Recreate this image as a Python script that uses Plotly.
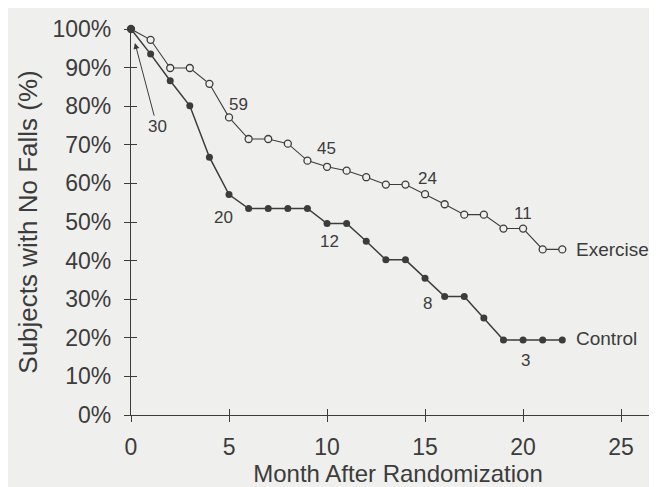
import plotly.graph_objects as go

months = list(range(0, 23))
exercise = [100, 97.2, 89.9, 89.9, 85.8, 77.1, 71.5, 71.5, 70.3, 65.9, 64.3, 63.3,
            61.6, 59.7, 59.7, 57.2, 54.6, 51.9, 51.9, 48.3, 48.3, 42.9, 42.9]
control = [100, 93.5, 86.6, 80.1, 66.8, 57.1, 53.5, 53.5, 53.5, 53.5, 49.6, 49.6,
           45.0, 40.2, 40.2, 35.4, 30.7, 30.7, 25.1, 19.4, 19.4, 19.4, 19.4]

# numbers at risk labels: (text, month, percent)
risk_labels = [("70", 0.7, 102.9), ("59", 5.5, 80.4), ("45", 9.95, 69.0),
               ("24", 15.1, 61.2), ("11", 20.0, 52.2),
               ("20", 4.7, 51.2), ("12", 10.15, 45.0), ("8", 15.1, 28.9),
               ("3", 20.1, 14.0)]
arrow_label = ("30", 1.33, 74.7, 0.2, 96.4)
series_names = [("Exercise", 22.6, 42.9), ("Control", 22.6, 19.9)]

xticks = [0, 5, 10, 15, 20, 25]
yticks = list(range(0, 101, 10))
yticktext = [f"{v}%" for v in yticks]

ink = "#3c3c3c"
bg = "#efefed"
font_family = "Liberation Sans, Arial, sans-serif"
xmax = 27.24

fig = go.Figure()
fig.add_trace(go.Scatter(
    x=months, y=exercise, mode="lines+markers", cliponaxis=False,
    line=dict(color=ink, width=1.1),
    marker=dict(symbol="circle", size=7, color=bg, line=dict(color=ink, width=1.3)),
    showlegend=False))
fig.add_trace(go.Scatter(
    x=months, y=control, mode="lines+markers", cliponaxis=False,
    line=dict(color=ink, width=1.5),
    marker=dict(symbol="circle", size=7, color=ink),
    showlegend=False))

for t, xv, yv in risk_labels:
    fig.add_annotation(x=xv, y=yv, text=t, showarrow=False,
                       font=dict(size=17, color=ink, family=font_family))
t, xv, yv, tx, ty = arrow_label
fig.add_annotation(x=tx, y=ty, ax=xv, ay=yv, axref="x", ayref="y", text=t,
                   showarrow=True, arrowhead=2, arrowsize=1.2, arrowwidth=1,
                   arrowcolor=ink, standoff=0,
                   font=dict(size=17, color=ink, family=font_family))
for t, xv, yv in series_names:
    fig.add_annotation(x=xv, y=yv, text=t, showarrow=False, xanchor="left",
                       font=dict(size=19, color=ink, family=font_family))

fig.update_layout(
    width=657, height=487,
    margin=dict(l=123, r=0, t=21, b=80, autoexpand=False),
    paper_bgcolor=bg, plot_bgcolor=bg,
    font=dict(family=font_family, color=ink),
    xaxis=dict(range=[0, xmax], tickvals=xticks, ticks="outside", ticklen=6,
               tickcolor=ink, tickwidth=1, showline=True, linecolor=ink, linewidth=1.2,
               showgrid=False, zeroline=False, tickfont=dict(size=23),
               ticklabelstandoff=5, automargin=False,
               title=dict(text="Month After Randomization", font=dict(size=24), standoff=6)),
    yaxis=dict(range=[0, 100], tickvals=yticks, ticktext=yticktext, ticks="outside",
               ticklen=6, tickcolor=ink, tickwidth=1, showline=True, linecolor=ink,
               linewidth=1.2, showgrid=False, zeroline=False, tickfont=dict(size=23),
               ticklabelstandoff=8, automargin=False,
               title=dict(text="Subjects with No Falls (%)", font=dict(size=26), standoff=7)),
    xaxis2=dict(overlaying="x", anchor="y", side="bottom", range=[0, xmax],
                tickvals=xticks, ticks="inside", ticklen=6, tickcolor=ink, tickwidth=1,
                showticklabels=False, showline=False, showgrid=False, zeroline=False),
    yaxis2=dict(overlaying="y", anchor="x", side="left", range=[0, 100],
                tickvals=yticks, ticks="inside", ticklen=6, tickcolor=ink, tickwidth=1,
                showticklabels=False, showline=False, showgrid=False, zeroline=False),
)
fig.add_trace(go.Scatter(x=[None], y=[None], xaxis="x2", yaxis="y2",
                         showlegend=False, hoverinfo="skip"))

fig.write_html("out.html")
